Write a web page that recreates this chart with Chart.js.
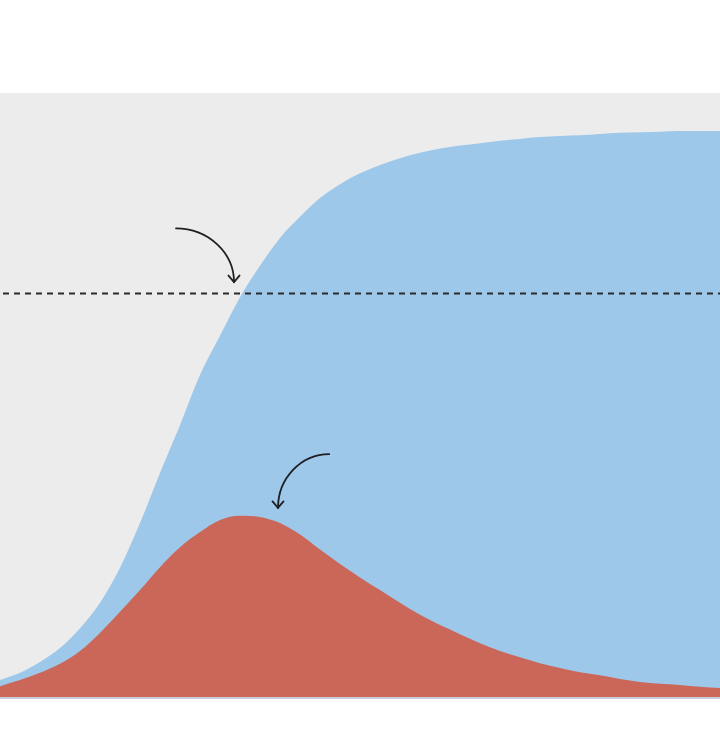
<!DOCTYPE html>
<html>
<head>
<meta charset="utf-8">
<script src="https://cdn.jsdelivr.net/npm/chart.js@4.4.1/dist/chart.umd.min.js"></script>
<style>
  html, body { margin: 0; padding: 0; background: #ffffff; }
  canvas { display: block; }
</style>
</head>
<body>
<canvas id="chart" width="720" height="742"></canvas>
<script>
// dias (eixo x), um ponto a cada 5 dias
const dias = [0, 5, 10, 15, 20, 25, 30, 35, 40, 45, 50, 55, 60, 65, 70, 75, 80, 85, 90,
  95, 100, 105, 110, 115, 120, 125, 130, 135, 140, 145, 150, 155, 160, 165, 170, 175, 180];

// % da população já infectada (acumulado)
const acumulado = [2.8, 4.0, 5.8, 8.1, 11.4, 15.6, 21.4, 28.8, 37.1, 45.0, 53.3, 59.8, 66.2,
  71.4, 76.0, 79.5, 82.6, 84.9, 86.7, 88.1, 89.2, 90.1, 90.8, 91.3, 91.7, 92.1, 92.4, 92.7,
  92.9, 93.0, 93.2, 93.4, 93.5, 93.6, 93.7, 93.7, 93.7];

// % da população infectada no momento
const ativos = [1.8, 2.8, 4.0, 5.5, 7.6, 10.6, 14.1, 17.7, 21.5, 24.8, 27.3, 29.3, 30.0,
  29.8, 28.8, 26.9, 24.4, 22.0, 19.8, 17.7, 15.6, 13.6, 11.9, 10.4, 8.9, 7.6, 6.6, 5.6,
  4.8, 4.1, 3.6, 3.0, 2.5, 2.2, 2.0, 1.7, 1.5];

// limiar de imunidade de rebanho
const limiar = 66.9;

// setas de anotação, em unidades dos dados (dia, %)
const setas = [
  { de: [44, 77.6], para: [58.5, 68.7] },
  { de: [82.3, 40.2], para: [69.5, 31.3] }
];

const fundoPlugin = {
  id: "fundo",
  beforeDraw(chart) {
    const { ctx, chartArea: a } = chart;
    ctx.save();
    ctx.fillStyle = "#ececec";
    ctx.fillRect(a.left, a.top, a.right - a.left, a.bottom - a.top);
    ctx.restore();
  }
};

const extrasPlugin = {
  id: "extras",
  afterDatasetsDraw(chart) {
    const { ctx, chartArea: a, scales } = chart;
    const x = scales.x, y = scales.y;
    ctx.save();

    // linha de base
    ctx.strokeStyle = "#c9ccd6";
    ctx.lineWidth = 2;
    ctx.beginPath();
    ctx.moveTo(a.left, a.bottom + 1);
    ctx.lineTo(a.right, a.bottom + 1);
    ctx.stroke();

    // linha tracejada do limiar
    const yl = Math.round(y.getPixelForValue(limiar)) + 0.5;
    ctx.strokeStyle = "#2a2a2a";
    ctx.lineWidth = 2;
    ctx.setLineDash([6, 5]);
    ctx.beginPath();
    ctx.moveTo(a.left + 3, yl);
    ctx.lineTo(a.right, yl);
    ctx.stroke();
    ctx.setLineDash([]);

    // setas
    ctx.strokeStyle = "#1f1f24";
    ctx.lineWidth = 1.8;
    ctx.lineCap = "round";
    setas.forEach(s => {
      const x0 = x.getPixelForValue(s.de[0]), y0 = y.getPixelForValue(s.de[1]);
      const x1 = x.getPixelForValue(s.para[0]), y1 = y.getPixelForValue(s.para[1]);
      ctx.beginPath();
      ctx.moveTo(x0, y0);
      ctx.bezierCurveTo(x0 + 0.55 * (x1 - x0), y0, x1, y1 - 0.55 * (y1 - y0), x1, y1);
      ctx.stroke();
      ctx.beginPath();
      ctx.moveTo(x1 - 5.5, y1 - 6.5);
      ctx.lineTo(x1, y1);
      ctx.lineTo(x1 + 5.5, y1 - 6.5);
      ctx.stroke();
    });
    ctx.restore();
  }
};

new Chart(document.getElementById("chart"), {
  type: "line",
  data: {
    labels: dias,
    datasets: [
      {
        label: "Infectados no momento",
        data: dias.map((d, i) => ({ x: d, y: ativos[i] })),
        backgroundColor: "#cb6759",
        borderWidth: 0,
        pointRadius: 0,
        fill: "origin",
        cubicInterpolationMode: "monotone"
      },
      {
        label: "Total já infectado",
        data: dias.map((d, i) => ({ x: d, y: acumulado[i] })),
        backgroundColor: "#9ec8ea",
        borderWidth: 0,
        pointRadius: 0,
        fill: "origin",
        cubicInterpolationMode: "monotone"
      }
    ]
  },
  options: {
    responsive: false,
    animation: false,
    layout: { padding: { top: 93, bottom: 45, left: 0, right: 0 } },
    plugins: { legend: { display: false }, tooltip: { enabled: false } },
    scales: {
      x: { type: "linear", min: 0, max: 180, display: false },
      y: { min: 0, max: 100, display: false }
    }
  },
  plugins: [fundoPlugin, extrasPlugin]
});
</script>
</body>
</html>
